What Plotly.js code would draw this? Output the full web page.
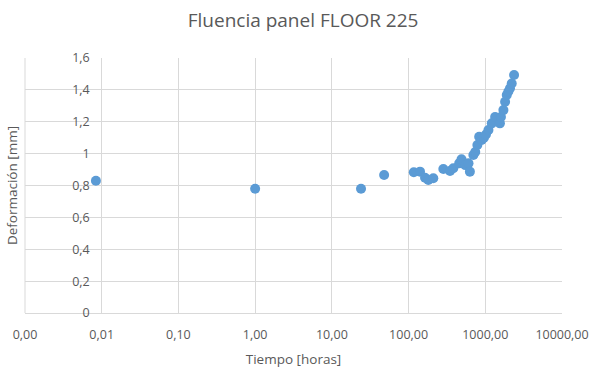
<!DOCTYPE html>
<html>
<head>
<meta charset="utf-8">
<script src="https://cdn.plot.ly/plotly-3.0.1.min.js"></script>
<style>html,body{margin:0;padding:0;background:#fff}#chart{width:592px;height:376px}</style>
</head>
<body>
<div id="chart"></div>
<script>
const tiempo = [0.0084, 1, 24, 48, 117, 141, 164, 181, 210, 284, 347, 383, 457, 490, 549, 604, 630, 700, 740, 789, 832, 898, 960, 1020, 1100, 1216, 1343, 1552, 1600, 1723, 1812, 1906, 2000, 2100, 2212, 2373];
const deformacion = [0.83, 0.78, 0.78, 0.866, 0.883, 0.887, 0.849, 0.834, 0.845, 0.903, 0.891, 0.908, 0.939, 0.964, 0.928, 0.939, 0.887, 0.991, 1.01, 1.054, 1.106, 1.085, 1.10, 1.12, 1.148, 1.19, 1.23, 1.19, 1.23, 1.273, 1.326, 1.368, 1.39, 1.41, 1.44, 1.493];
const xTickVals = [0.001, 0.01, 0.1, 1, 10, 100, 1000, 10000];
const xTickText = ["0,00", "0,01", "0,10", "1,00", "10,00", "100,00", "1000,00", "10000,00"];
const yTickVals = [0, 0.2, 0.4, 0.6, 0.8, 1, 1.2, 1.4, 1.6];
const yTickText = ["0", "0,2", "0,4", "0,6", "0,8", "1", "1,2", "1,4", "1,6"];

const grey = '#595959';
const grid = '#d9d9d9';
const fontFam = 'Open Sans, Liberation Sans, sans-serif';

Plotly.newPlot('chart', [{
  x: tiempo, y: deformacion, type: 'scatter', mode: 'markers',
  marker: {color: '#5b9bd5', size: 10}
}], {
  width: 592, height: 376,
  margin: {l: 25, r: 30, t: 58, b: 63},
  paper_bgcolor: '#fff', plot_bgcolor: '#fff',
  showlegend: false,
  title: {text: 'Fluencia panel FLOOR 225', x: 0.512, xanchor: 'center', y: 0.945, yanchor: 'middle',
    font: {family: fontFam, size: 19, color: grey}},
  xaxis: {type: 'log', range: [-3, 4], tickvals: xTickVals, ticktext: xTickText,
    showgrid: true, gridcolor: grid, gridwidth: 1, zeroline: false,
    showline: true, linecolor: grid, linewidth: 1, ticks: '', ticklabelstandoff: 10,
    tickfont: {family: fontFam, size: 12.5, color: grey},
    title: {text: 'Tiempo [horas]', font: {family: fontFam, size: 13.5, color: grey}, standoff: 12}},
  yaxis: {range: [0, 1.6], tickvals: yTickVals, ticktext: yTickText,
    anchor: 'free', position: 1/7, showline: false, zeroline: false,
    showgrid: true, gridcolor: grid, gridwidth: 1, ticks: '', ticklabelstandoff: 12,
    tickfont: {family: fontFam, size: 12.5, color: grey}},
  shapes: [{type: 'line', xref: 'paper', yref: 'paper', x0: 0, x1: 0, y0: 0, y1: 1,
    line: {color: grid, width: 1}}],
  annotations: [{text: 'Deformación [mm]', xref: 'paper', yref: 'paper', x: -0.025, y: 0.5,
    xanchor: 'center', yanchor: 'middle', textangle: -90, showarrow: false,
    font: {family: fontFam, size: 13.5, color: grey}}]
}, {displayModeBar: false, staticPlot: true});
</script>
</body>
</html>
